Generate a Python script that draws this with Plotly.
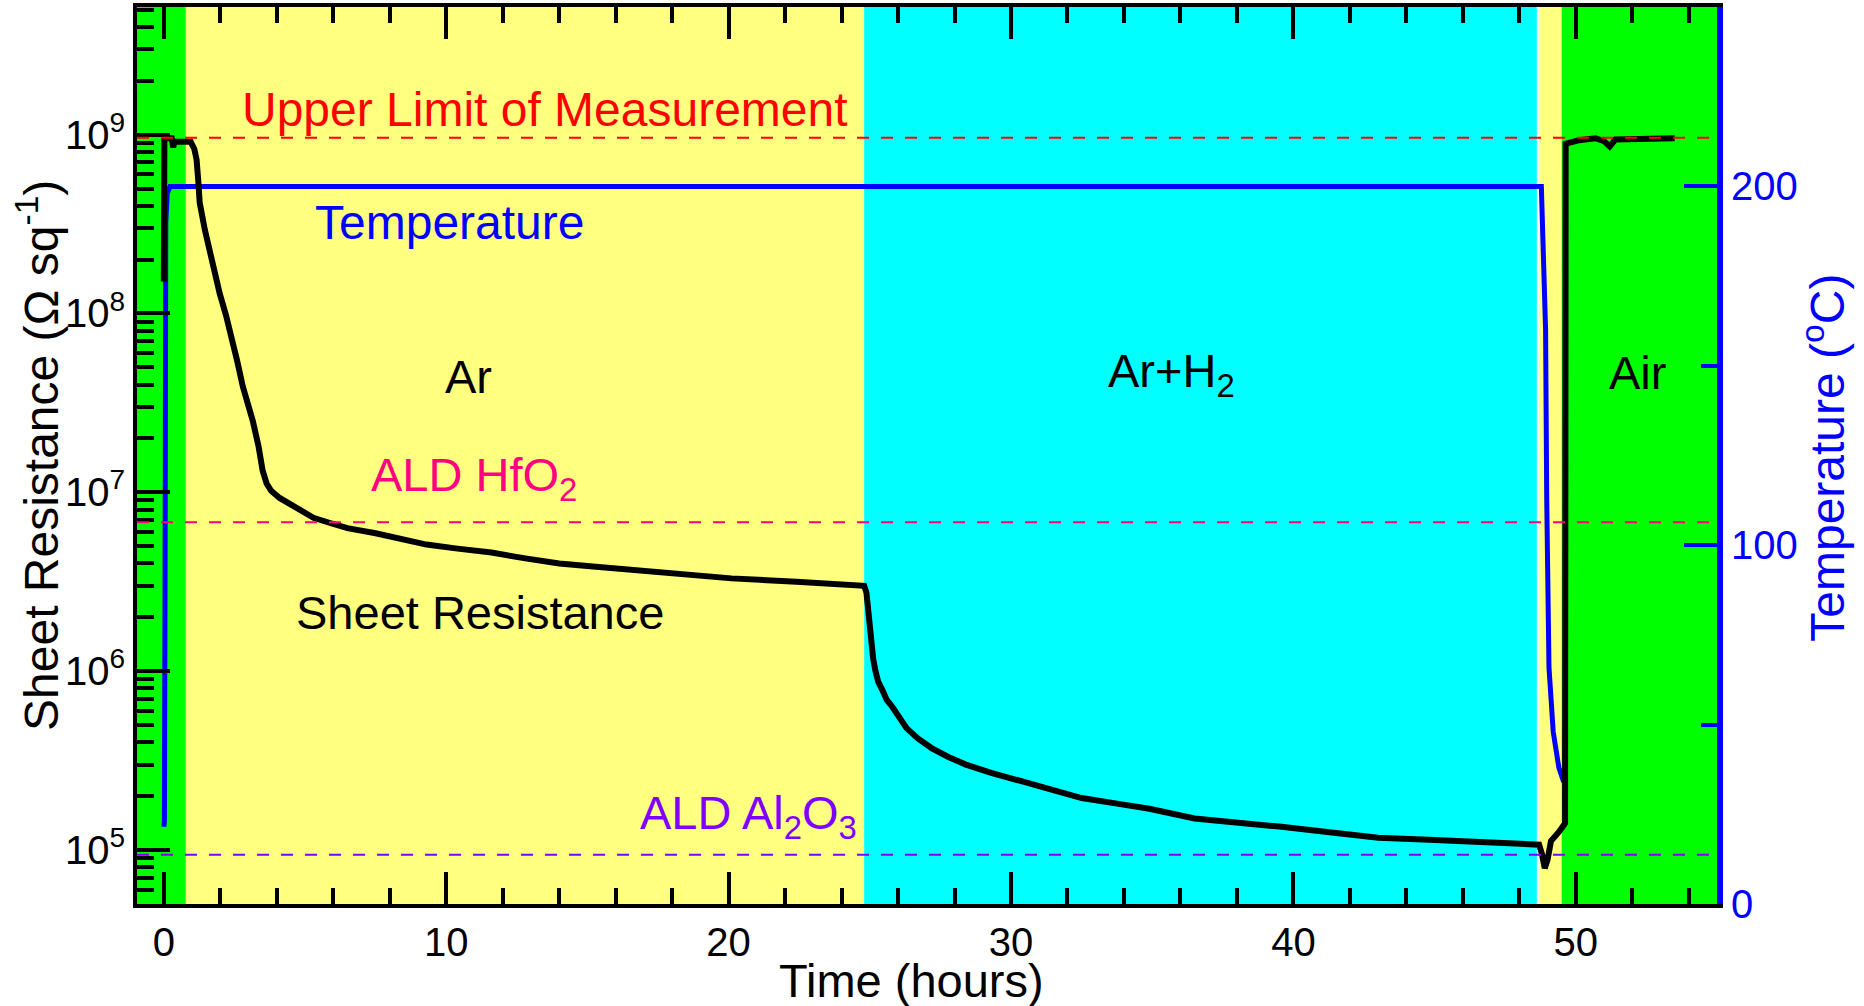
import plotly.graph_objects as go

# ---------------- data ----------------
# Sheet resistance (ohm/sq) vs time (hours)
res_time = [0.00, 0.02, 0.28, 0.33, 0.38, 0.95, 1.08, 1.16, 1.22, 1.27, 1.45, 1.63, 1.80,
            1.98, 2.20, 2.40, 2.60, 2.80, 3.15, 3.35, 3.50, 3.64, 3.80, 4.10, 4.40, 4.80,
            5.30, 5.80, 6.50, 7.50, 8.40, 9.30, 10.4, 11.6, 12.8, 14.0, 15.2, 16.35, 18.2,
            20.1, 22.4, 24.8,
            24.88, 24.95, 25.05, 25.12, 25.2, 25.3, 25.45, 25.6, 25.8, 26.0, 26.3, 26.7,
            27.2, 27.8, 28.4, 29.3, 30.2, 31.3, 32.5, 33.7, 34.9, 36.5, 38.0, 39.5, 41.2,
            43.0, 44.8, 46.6, 48.7,
            48.8, 48.9, 49.0, 49.12, 49.4, 49.55, 49.62, 49.64, 50.1, 50.7, 51.0, 51.2,
            51.4, 53.5]
res_val = [1.51e8, 9.55e8, 9.55e8, 8.5e8, 9.12e8, 9.12e8, 8.32e8, 7.24e8, 5.5e8, 4.17e8,
           2.95e8, 2.19e8, 1.66e8, 1.29e8, 9.8e7, 7.41e7, 5.4e7, 3.89e7, 2.51e7, 1.82e7,
           1.32e7, 1.12e7, 1.02e7, 9.3e6, 8.7e6, 7.9e6, 7.2e6, 6.8e6, 6.3e6, 5.9e6, 5.5e6,
           5.1e6, 4.84e6, 4.6e6, 4.27e6, 4.0e6, 3.85e6, 3.7e6, 3.5e6, 3.3e6, 3.16e6, 3.0e6,
           2.75e6, 2.0e6, 1.45e6, 1.17e6, 1.0e6, 8.7e5, 7.8e5, 6.9e5, 6.3e5, 5.6e5, 4.8e5,
           4.2e5, 3.7e5, 3.3e5, 3.0e5, 2.7e5, 2.45e5, 2.2e5, 1.95e5, 1.82e5, 1.7e5, 1.5e5,
           1.43e5, 1.35e5, 1.26e5, 1.17e5, 1.14e5, 1.10e5, 1.07e5,
           9.5e4, 7.9e4, 8.8e4, 1.12e5, 1.26e5, 1.36e5, 1.41e5, 8.9e8, 9.3e8, 9.55e8, 9.2e8,
           8.6e8, 9.4e8, 9.55e8]

# Temperature (deg C) vs time (hours)
temp_time = [0.0, 0.02, 0.04, 0.07, 0.12, 0.22, 48.78, 48.85, 48.93, 48.97, 49.05, 49.2, 49.4, 49.57]
temp_val = [21.5, 23, 80, 190, 198, 200, 200, 185, 160, 113, 66, 48, 38, 34]

# gas phases (background)
phase_start = [-0.95, 0.78, 24.8, 48.7, 49.5]
phase_end = [0.78, 24.8, 48.62, 49.5, 55.0]
phase_gas = ["Air", "Ar", "Ar+H2", "Ar", "Air"]

# reference levels (ohm/sq)
ref_names = ["Upper Limit of Measurement", "ALD HfO<sub>2</sub>", "ALD Al<sub>2</sub>O<sub>3</sub>"]
ref_vals = [9.6e8, 6.8e6, 9.4e4]

# axis ticks
x_ticks = [0, 10, 20, 30, 40, 50]
y_major = [1e5, 1e6, 1e7, 1e8, 1e9]
y_major_text = ["10<sup>5</sup>", "10<sup>6</sup>", "10<sup>7</sup>", "10<sup>8</sup>", "10<sup>9</sup>"]
y_minor = [m * 10 ** e for e in range(4, 10) for m in range(2, 10)
           if 5e4 <= m * 10 ** e <= 5e9]
t_major = [0, 100, 200]
t_minor = [50, 150, 250]

# ---------------- styling ----------------
FONT = "Liberation Sans, Arial, sans-serif"
gas_color = {"Air": "#00FF00", "Ar": "#FFFF80", "Ar+H2": "#00FFFF"}
ref_colors = ["#FF0000", "#FF0080", "#8000FF"]

fig = go.Figure()

# temperature on primary (right) axis, resistance on overlay (left) axis so black draws on top
fig.add_trace(go.Scatter(x=temp_time, y=temp_val, mode="lines", yaxis="y",
                         line=dict(color="#0000FF", width=5), name="Temperature",
                         showlegend=False))
fig.add_trace(go.Scatter(x=res_time, y=res_val, mode="lines", yaxis="y2",
                         line=dict(color="black", width=6), name="Sheet Resistance",
                         showlegend=False))

shapes = []
for s, e, g in zip(phase_start, phase_end, phase_gas):
    shapes.append(dict(type="rect", xref="x", yref="paper", x0=s, x1=e, y0=0, y1=1,
                       fillcolor=gas_color[g], line=dict(width=0), layer="below"))
for v, c in zip(ref_vals, ref_colors):
    shapes.append(dict(type="line", xref="paper", yref="y2", x0=0, x1=1, y0=v, y1=v,
                       line=dict(color=c, width=2, dash="12px,12px"), layer="above"))

ann = []
def lab(text, x, logy, color, size=47, yref="y2"):
    ann.append(dict(text=text, x=x, y=logy, xref="x", yref=yref, showarrow=False,
                    font=dict(family=FONT, size=size, color=color),
                    xanchor="center", yanchor="middle"))

lab(ref_names[0], 13.5, 9.14, ref_colors[0], 48)
lab("Temperature", 10.1, 8.51, "#0000FF", 48)
lab("Ar", 10.8, 7.65, "black")
lab("Ar+H<sub>2</sub>", 35.7, 7.66, "black")
lab("Air", 52.2, 7.67, "black")
lab(ref_names[1], 11.0, 7.08, ref_colors[1])
lab("Sheet Resistance", 11.2, 6.33, "black")
lab(ref_names[2], 20.7, 5.19, ref_colors[2])

# axis titles
ann.append(dict(text="Time (hours)", x=0.49, y=-0.085, xref="paper", yref="paper",
                showarrow=False, xanchor="center", yanchor="middle",
                font=dict(family=FONT, size=47, color="black")))
ann.append(dict(text="Sheet Resistance (\u03a9 sq<sup>-1</sup>)", x=-0.063, y=0.5,
                xref="paper", yref="paper", showarrow=False, textangle=-90,
                xanchor="center", yanchor="middle",
                font=dict(family=FONT, size=48, color="black")))
ann.append(dict(text="Temperature (<sup>o</sup>C)", x=1.068, y=0.498,
                xref="paper", yref="paper", showarrow=False, textangle=-90,
                xanchor="center", yanchor="middle",
                font=dict(family=FONT, size=48, color="#0000FF")))

fig.update_layout(
    width=1864, height=1006,
    margin=dict(l=137, r=147, t=7, b=102, autoexpand=False),
    paper_bgcolor="white", plot_bgcolor="white",
    font=dict(family=FONT, size=40, color="black"),
    shapes=shapes, annotations=ann, showlegend=False,
    xaxis=dict(range=[-0.95, 55], tickvals=x_ticks, ticks="inside", ticklen=32,
               tickwidth=4, tickcolor="black", showline=True, linewidth=4,
               linecolor="black", mirror="ticks", showgrid=False, zeroline=False,
               tickfont=dict(family=FONT, size=40, color="black"),
               minor=dict(dtick=2, tick0=0, ticks="inside", ticklen=16, tickwidth=4,
                          tickcolor="black", showgrid=False)),
    yaxis=dict(range=[0, 250], side="right", tickvals=t_major, ticks="inside",
               ticklen=33, tickwidth=4, tickcolor="#0000FF", showline=True,
               linewidth=6, linecolor="#0000FF", showgrid=False, zeroline=False,
               tickfont=dict(family=FONT, size=40, color="#0000FF"),
               minor=dict(tickvals=t_minor, ticks="inside", ticklen=16, tickwidth=4,
                          tickcolor="#0000FF", showgrid=False)),
    yaxis2=dict(type="log", range=[4.6975, 9.714], overlaying="y", side="left",
                tickvals=y_major, ticktext=y_major_text, ticks="inside", ticklen=33,
                tickwidth=4, tickcolor="black", showline=True, linewidth=4,
                linecolor="black", showgrid=False, zeroline=False,
                tickfont=dict(family=FONT, size=40, color="black"),
                minor=dict(tickvals=y_minor, ticks="inside", ticklen=17, tickwidth=4,
                           tickcolor="black", showgrid=False)),
)

fig.write_html("out.html")
